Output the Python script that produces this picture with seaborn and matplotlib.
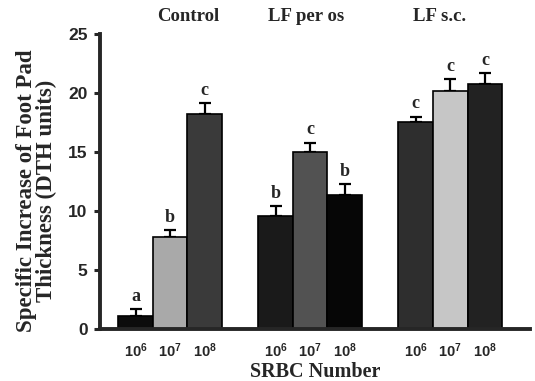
import pandas as pd
import matplotlib
matplotlib.use("Agg")
import matplotlib.pyplot as plt
import seaborn as sns

groups = ["Control", "LF per os", "LF s.c."]
doses = ["10$^{6}$", "10$^{7}$", "10$^{8}$"]
means = [[1.1, 7.8, 18.2],
         [9.6, 15.0, 11.4],
         [17.5, 20.2, 20.8]]
errors = [[0.6, 0.6, 0.95],
          [0.85, 0.8, 0.9],
          [0.5, 0.95, 0.85]]
letters = [["a", "b", "c"],
           ["b", "c", "b"],
           ["c", "c", "c"]]
fills = [["#0c0c0c", "#a9a9a9", "#3a3a3a"],
         ["#1a1a1a", "#525252", "#060606"],
         ["#2e2e2e", "#c6c6c6", "#222222"]]

sns.set_style("ticks")
plt.rcParams["font.family"] = ["Liberation Serif", "DejaVu Serif"]
plt.rcParams["mathtext.fontset"] = "custom"
plt.rcParams["mathtext.rm"] = "Liberation Sans:bold"
plt.rcParams["mathtext.it"] = "Liberation Sans:bold"
plt.rcParams["mathtext.bf"] = "Liberation Sans:bold"

rows = []
for gi, g in enumerate(groups):
    for di, d in enumerate(doses):
        rows.append({"group": g, "dose": d, "value": means[gi][di]})
df = pd.DataFrame(rows)

fig = plt.figure(figsize=(5.35, 3.81), dpi=100)
ax = fig.add_axes([0.187, 0.136, 0.804, 0.775])

sns.barplot(data=df, x="group", y="value", hue="dose", hue_order=doses,
            order=groups, width=0.74, gap=0, errorbar=None,
            edgecolor="black", linewidth=1.2, legend=False, ax=ax)

# patches come ordered by hue level, then by group
centers = []
for di in range(3):
    for gi in range(3):
        p = ax.patches[di * 3 + gi]
        p.set_facecolor(fills[gi][di])
        p.set_zorder(2)
        x = p.get_x() + p.get_width() / 2
        top = p.get_height()
        err = errors[gi][di]
        ax.errorbar(x, top, yerr=[[0], [err]], fmt="none", ecolor="black",
                    elinewidth=1.6, capsize=4, capthick=1.6, zorder=1)
        ax.text(x, top + err + 0.35, letters[gi][di], ha="center", va="bottom",
                fontsize=13, fontweight="bold")
        centers.append((gi, di, x))

centers.sort()
ax.set_xticks([c[2] for c in centers])
ax.set_xticklabels([doses[c[1]] for c in centers])
ax.tick_params(axis="x", length=0, pad=9)
ax.tick_params(axis="y", length=4, width=2.2, direction="out", pad=5)
for lab in ax.get_xticklabels():
    lab.set_fontfamily("Liberation Sans")
    lab.set_fontweight("bold")
    lab.set_fontsize(10.5)
for lab in ax.get_yticklabels():
    lab.set_fontfamily("Liberation Sans")
    lab.set_fontweight("bold")
    lab.set_fontsize(12.5)

ax.set_ylim(0, 25)
ax.set_yticks([0, 5, 10, 15, 20, 25])
ax.set_xlim(-0.5, 2.57)
sns.despine(ax=ax)
ax.spines["left"].set_linewidth(2.8)
ax.spines["bottom"].set_linewidth(2.8)

title_offsets = [0.13, -0.03, -0.08]
for gi, g in enumerate(groups):
    ax.text(gi + title_offsets[gi], 1.03, g, transform=ax.get_xaxis_transform(),
            ha="center", va="bottom", fontsize=13.5, fontweight="bold")

ax.set_ylabel("Specific Increase of Foot Pad\nThickness (DTH units)",
              fontsize=16.5, fontweight="bold", linespacing=0.95)
ax.yaxis.set_label_coords(-0.1, 0.47)
ax.set_xlabel("SRBC Number", fontsize=14.5, fontweight="bold", labelpad=1)

fig.savefig("out.png", dpi=100)
